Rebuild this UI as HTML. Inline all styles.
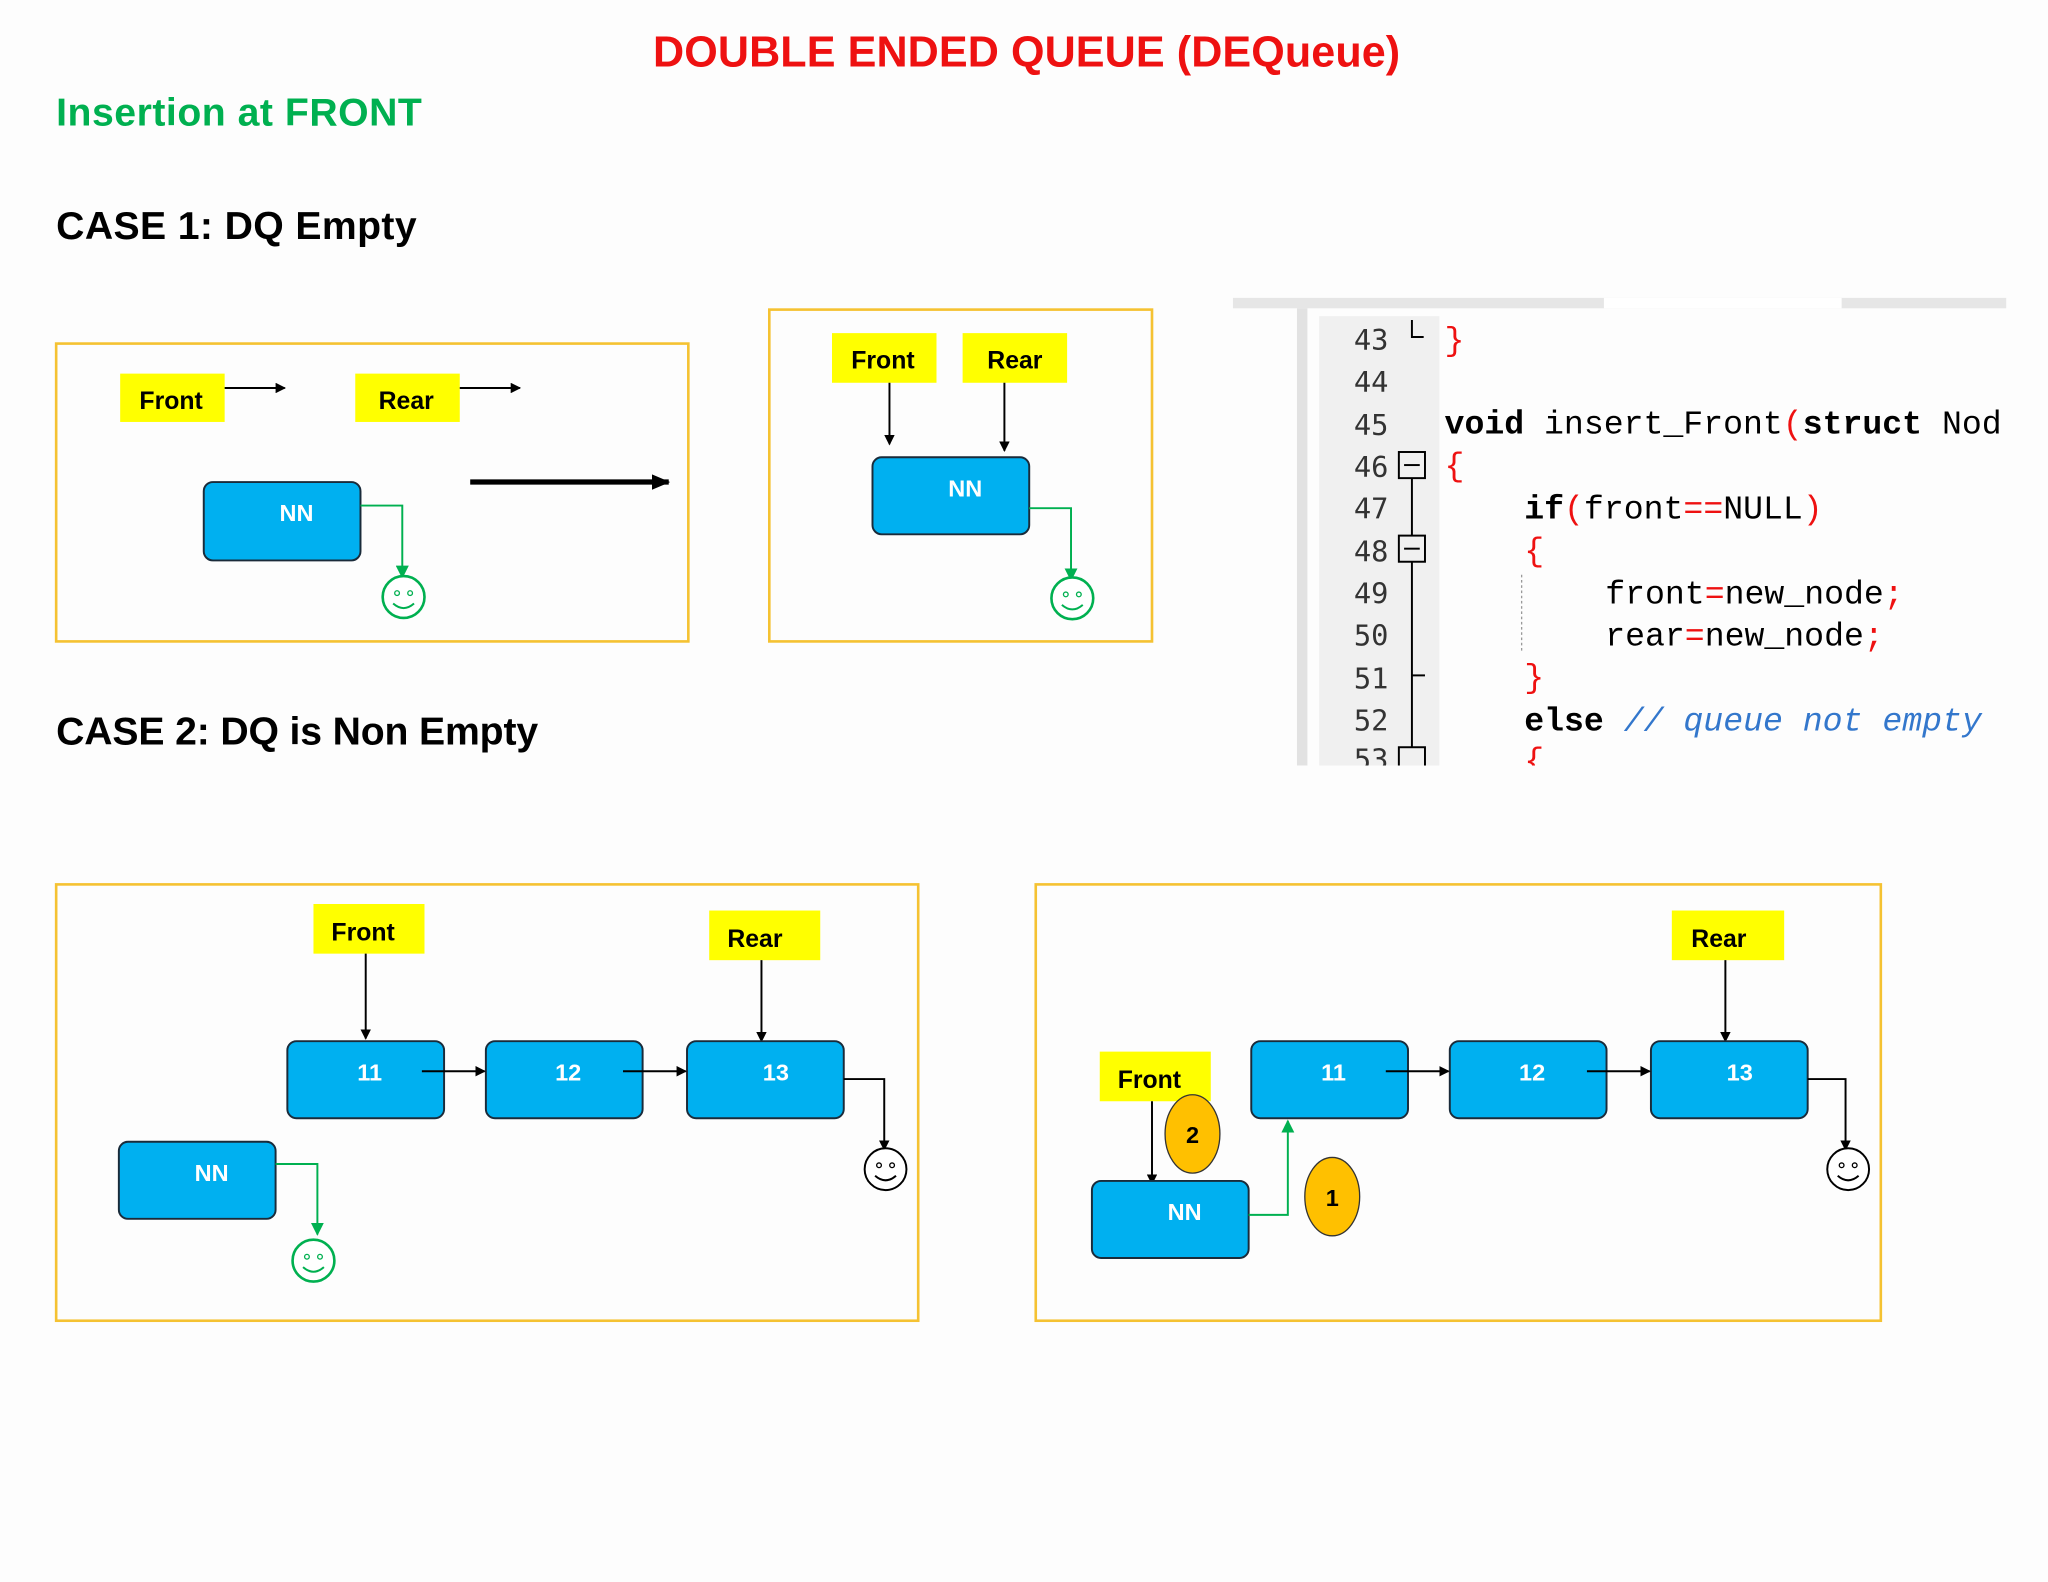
<!DOCTYPE html>
<html><head><meta charset="utf-8"><style>
html,body{margin:0;padding:0;background:#fdfdfd;}
svg{display:block}
text{font-family:"Liberation Sans",sans-serif}
.n{fill:#00b0f0;stroke:#1a2b3a;stroke-width:1.5}
.nt{fill:#fff;font-weight:bold;font-size:18px;text-anchor:middle}
.y{fill:#ffff00}
.yt{fill:#000;font-weight:bold;font-size:19px;text-anchor:middle}
.box{fill:none;stroke:#f5c232;stroke-width:2}
.code text{font-family:"Liberation Mono",monospace;font-size:25.4px}
.ln text{font-family:"DejaVu Sans Mono",monospace;font-size:22px;fill:#333;text-anchor:end}
</style></head><body>
<svg width="2048" height="1582" viewBox="0 0 1568 1211" preserveAspectRatio="none">
<defs>
<marker id="a" markerWidth="8" markerHeight="8" refX="7" refY="4" orient="auto" markerUnits="userSpaceOnUse"><path d="M0,0L8,4L0,8z" fill="#000"/></marker>
<marker id="ab" markerWidth="14" markerHeight="12" refX="13" refY="6" orient="auto" markerUnits="userSpaceOnUse"><path d="M0,0L14,6L0,12z" fill="#000"/></marker>
<marker id="g" markerWidth="10" markerHeight="10" refX="9" refY="5" orient="auto" markerUnits="userSpaceOnUse"><path d="M0,0L10,5L0,10z" fill="#00b050"/></marker>
<g id="sg"><circle r="16" fill="#fff" stroke="#00b050" stroke-width="2"/><circle cx="-5" cy="-3" r="1.8" fill="none" stroke="#00b050"/><circle cx="5" cy="-3" r="1.8" fill="none" stroke="#00b050"/><path d="M-8,5Q0,12 8,5" fill="none" stroke="#00b050" stroke-width="1.5"/></g>
<g id="sk"><circle r="16" fill="#fff" stroke="#000" stroke-width="1.5"/><circle cx="-5" cy="-3" r="1.8" fill="none" stroke="#000"/><circle cx="5" cy="-3" r="1.8" fill="none" stroke="#000"/><path d="M-8,5Q0,12 8,5" fill="none" stroke="#000" stroke-width="1.5"/></g>
</defs>
<text x="786" y="51" fill="#ee1111" font-size="33" font-weight="bold" text-anchor="middle" textLength="572">DOUBLE ENDED QUEUE (DEQueue)</text>
<text x="43" y="96" fill="#00b050" font-size="30" font-weight="bold" textLength="280">Insertion at FRONT</text>
<text x="43" y="183" fill="#000" font-size="30" font-weight="bold" textLength="276">CASE 1: DQ  Empty</text>
<text x="43" y="570" fill="#000" font-size="30" font-weight="bold" textLength="369">CASE 2: DQ is Non Empty</text>

<!-- case1 left -->
<rect class="box" x="43" y="263" width="484" height="228"/>
<rect class="y" x="92" y="286" width="80" height="37"/><text class="yt" x="131" y="313">Front</text>
<line x1="172" y1="297" x2="218" y2="297" stroke="#000" stroke-width="1.5" marker-end="url(#a)"/>
<rect class="y" x="272" y="286" width="80" height="37"/><text class="yt" x="311" y="313">Rear</text>
<line x1="352" y1="297" x2="398" y2="297" stroke="#000" stroke-width="1.5" marker-end="url(#a)"/>
<rect class="n" x="156" y="369" width="120" height="60" rx="7"/><text class="nt" x="227" y="399">NN</text>
<polyline points="276,387 308,387 308,442" fill="none" stroke="#00b050" stroke-width="1.5" marker-end="url(#g)"/>
<use href="#sg" x="309" y="457"/>
<line x1="360" y1="369" x2="512" y2="369" stroke="#000" stroke-width="4" marker-end="url(#ab)"/>

<!-- case1 right -->
<rect class="box" x="589" y="237" width="293" height="254"/>
<rect class="y" x="637" y="255" width="80" height="38"/><text class="yt" x="676" y="282">Front</text>
<rect class="y" x="737" y="255" width="80" height="38"/><text class="yt" x="777" y="282">Rear</text>
<line x1="681" y1="293" x2="681" y2="340" stroke="#000" stroke-width="1.5" marker-end="url(#a)"/>
<line x1="769" y1="293" x2="769" y2="345" stroke="#000" stroke-width="1.5" marker-end="url(#a)"/>
<rect class="n" x="668" y="350" width="120" height="59" rx="7"/><text class="nt" x="739" y="380">NN</text>
<polyline points="788,389 820,389 820,444" fill="none" stroke="#00b050" stroke-width="1.5" marker-end="url(#g)"/>
<use href="#sg" x="821" y="458"/>

<!-- code -->
<rect x="944" y="228" width="592" height="8" fill="#e6e6e6"/>
<rect x="1228" y="228" width="182" height="8" fill="#fff"/>
<rect x="993" y="236" width="8" height="350" fill="#e2e2e2"/>
<rect x="1010" y="242" width="92" height="344" fill="#f0f0f0"/>
<g class="ln">
<text x="1063" y="268">43</text><text x="1063" y="300">44</text><text x="1063" y="333">45</text><text x="1063" y="365">46</text><text x="1063" y="397">47</text><text x="1063" y="430">48</text><text x="1063" y="462">49</text><text x="1063" y="494">50</text><text x="1063" y="527">51</text><text x="1063" y="559">52</text><text x="1063" y="589">53</text>
</g>
<g stroke="#000" stroke-width="1.5" fill="none">
<path d="M1081,245V258H1090"/>
<rect x="1071" y="346" width="20" height="20"/><line x1="1075" y1="356" x2="1087" y2="356"/>
<rect x="1071" y="410" width="20" height="20"/><line x1="1075" y1="420" x2="1087" y2="420"/>
<line x1="1081" y1="366" x2="1081" y2="410"/><line x1="1081" y1="430" x2="1081" y2="572"/>
<line x1="1081" y1="517" x2="1091" y2="517"/>
<rect x="1071" y="572" width="20" height="20"/>
</g>
<line x1="1165" y1="440" x2="1165" y2="500" stroke="#999" stroke-dasharray="2,2"/>
<g class="code">
<text x="1106" y="268" fill="#e11">}</text>
<text x="1106" y="332"><tspan font-weight="bold">void</tspan> insert_Front<tspan fill="#e11">(</tspan><tspan font-weight="bold">struct</tspan> Nod</text>
<text x="1106" y="364" fill="#e11">{</text>
<text x="1167" y="397"><tspan font-weight="bold">if</tspan><tspan fill="#e11">(</tspan>front<tspan fill="#e11">==</tspan>NULL<tspan fill="#e11">)</tspan></text>
<text x="1167" y="429" fill="#e11">{</text>
<text x="1229" y="462">front<tspan fill="#e11">=</tspan>new_node<tspan fill="#e11">;</tspan></text>
<text x="1229" y="494">rear<tspan fill="#e11">=</tspan>new_node<tspan fill="#e11">;</tspan></text>
<text x="1167" y="526" fill="#e11">}</text>
<text x="1167" y="559"><tspan font-weight="bold">else</tspan> <tspan fill="#3377cc" font-style="italic">// queue not empty</tspan></text>
<text x="1167" y="590" fill="#e11">{</text>
</g>
<rect x="944" y="586" width="600" height="20" fill="#fdfdfd"/>
<rect x="1536" y="236" width="32" height="360" fill="#fdfdfd"/>

<!-- case2 left -->
<rect class="box" x="43" y="677" width="660" height="334"/>
<rect class="y" x="240" y="692" width="85" height="38"/><text class="yt" x="278" y="720">Front</text>
<rect class="y" x="543" y="697" width="85" height="38"/><text class="yt" x="578" y="725">Rear</text>
<line x1="280" y1="730" x2="280" y2="795" stroke="#000" stroke-width="1.5" marker-end="url(#a)"/>
<line x1="583" y1="735" x2="583" y2="797" stroke="#000" stroke-width="1.5" marker-end="url(#a)"/>
<rect class="n" x="220" y="797" width="120" height="59" rx="7"/><text class="nt" x="283" y="827">11</text>
<rect class="n" x="372" y="797" width="120" height="59" rx="7"/><text class="nt" x="435" y="827">12</text>
<rect class="n" x="526" y="797" width="120" height="59" rx="7"/><text class="nt" x="594" y="827">13</text>
<line x1="323" y1="820" x2="371" y2="820" stroke="#000" stroke-width="1.5" marker-end="url(#a)"/>
<line x1="477" y1="820" x2="525" y2="820" stroke="#000" stroke-width="1.5" marker-end="url(#a)"/>
<polyline points="646,826 677,826 677,880" fill="none" stroke="#000" stroke-width="1.5" marker-end="url(#a)"/>
<use href="#sk" x="678" y="895"/>
<rect class="n" x="91" y="874" width="120" height="59" rx="7"/><text class="nt" x="162" y="904">NN</text>
<polyline points="211,891 243,891 243,945" fill="none" stroke="#00b050" stroke-width="1.5" marker-end="url(#g)"/>
<use href="#sg" x="240" y="965"/>

<!-- case2 right -->
<rect class="box" x="793" y="677" width="647" height="334"/>
<rect class="y" x="1280" y="697" width="86" height="38"/><text class="yt" x="1316" y="725">Rear</text>
<line x1="1321" y1="735" x2="1321" y2="797" stroke="#000" stroke-width="1.5" marker-end="url(#a)"/>
<rect class="n" x="958" y="797" width="120" height="59" rx="7"/><text class="nt" x="1021" y="827">11</text>
<rect class="n" x="1110" y="797" width="120" height="59" rx="7"/><text class="nt" x="1173" y="827">12</text>
<rect class="n" x="1264" y="797" width="120" height="59" rx="7"/><text class="nt" x="1332" y="827">13</text>
<line x1="1061" y1="820" x2="1109" y2="820" stroke="#000" stroke-width="1.5" marker-end="url(#a)"/>
<line x1="1215" y1="820" x2="1263" y2="820" stroke="#000" stroke-width="1.5" marker-end="url(#a)"/>
<polyline points="1384,826 1413,826 1413,880" fill="none" stroke="#000" stroke-width="1.5" marker-end="url(#a)"/>
<use href="#sk" x="1415" y="895"/>
<rect class="y" x="842" y="805" width="85" height="38"/><text class="yt" x="880" y="833">Front</text>
<line x1="882" y1="843" x2="882" y2="906" stroke="#000" stroke-width="1.5" marker-end="url(#a)"/>
<rect class="n" x="836" y="904" width="120" height="59" rx="7"/><text class="nt" x="907" y="934">NN</text>
<ellipse cx="913" cy="868" rx="21" ry="30" fill="#ffc000" stroke="#333" stroke-width="1"/><text x="913" y="875" font-size="18" font-weight="bold" text-anchor="middle">2</text>
<polyline points="956,930 986,930 986,858" fill="none" stroke="#00b050" stroke-width="1.5" marker-end="url(#g)"/>
<ellipse cx="1020" cy="916" rx="21" ry="30" fill="#ffc000" stroke="#333" stroke-width="1"/><text x="1020" y="923" font-size="18" font-weight="bold" text-anchor="middle">1</text>
</svg>
</body></html>
